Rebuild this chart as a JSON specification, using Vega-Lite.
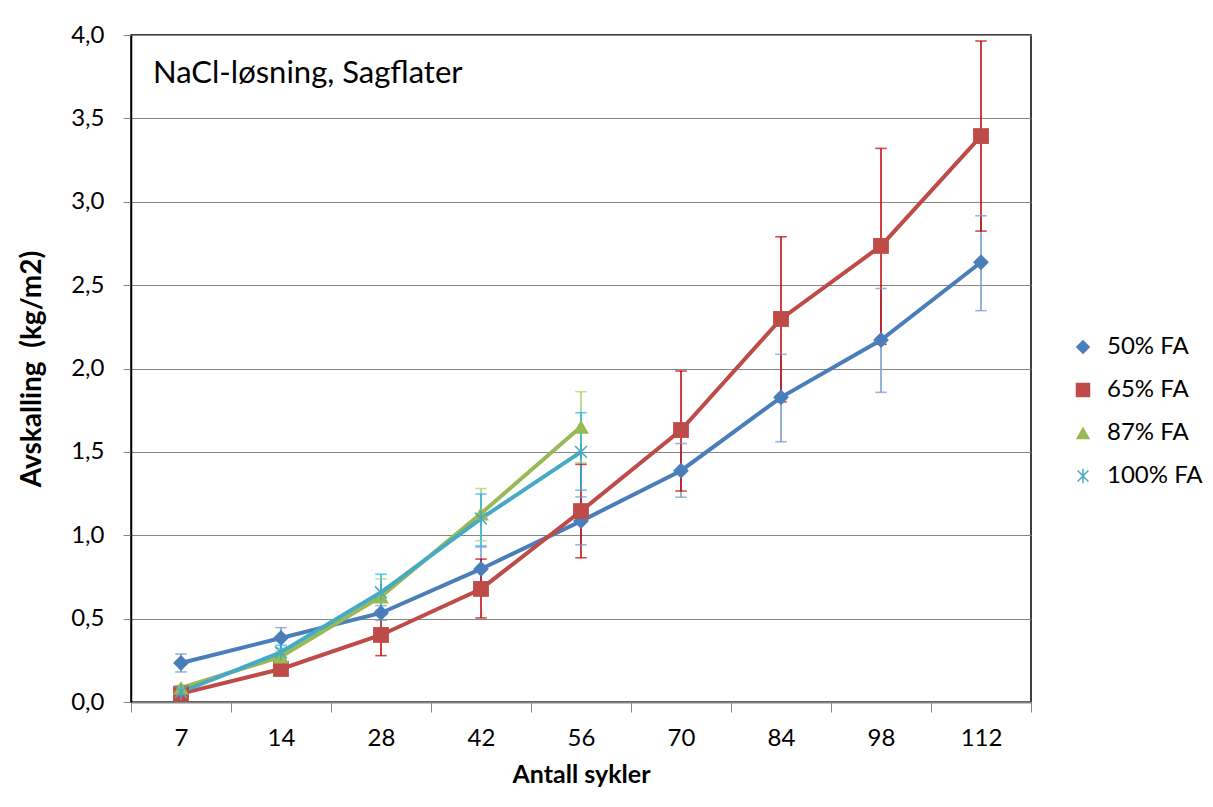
{
  "$schema": "https://vega.github.io/schema/vega-lite/v6.json",
  "width": 900,
  "height": 667,
  "autosize": "none",
  "padding": {"left": 131, "top": 35, "right": 182, "bottom": 105},
  "background": "white",
  "config": {
    "font": "Lato",
    "view": {"stroke": "black", "strokeWidth": 1.5},
    "axis": {"labelColor": "black", "titleColor": "black", "labelFontSize": 24, "titleFontSize": 25, "titleFontWeight": "bold", "labelFont": "Lato", "titleFont": "Lato"},
    "legend": {"orient": "none", "legendX": 940, "legendY": 300, "labelFontSize": 24, "labelFont": "Lato", "labelColor": "black", "rowPadding": 19, "symbolSize": 210, "labelOffset": 12, "title": null}
  },
  "title": {"text": "NaCl-løsning, Sagflater", "anchor": "start", "frame": "group", "orient": "top", "offset": -91, "dx": 22, "fontSize": 31, "fontWeight": "normal", "color": "black", "font": "Lato", "baseline": "alphabetic"},
  "data": {"values": [
    {"cycle": 7, "series": "50% FA", "value": 0.234, "lo": 0.18, "hi": 0.288},
    {"cycle": 14, "series": "50% FA", "value": 0.384, "lo": 0.322, "hi": 0.446},
    {"cycle": 28, "series": "50% FA", "value": 0.534, "lo": 0.49, "hi": 0.578},
    {"cycle": 42, "series": "50% FA", "value": 0.798, "lo": 0.67, "hi": 0.93},
    {"cycle": 56, "series": "50% FA", "value": 1.085, "lo": 0.943, "hi": 1.23},
    {"cycle": 70, "series": "50% FA", "value": 1.387, "lo": 1.228, "hi": 1.55},
    {"cycle": 84, "series": "50% FA", "value": 1.827, "lo": 1.561, "hi": 2.085},
    {"cycle": 98, "series": "50% FA", "value": 2.171, "lo": 1.857, "hi": 2.48},
    {"cycle": 112, "series": "50% FA", "value": 2.637, "lo": 2.347, "hi": 2.916},
    {"cycle": 7, "series": "65% FA", "value": 0.05, "lo": 0.035, "hi": 0.065},
    {"cycle": 14, "series": "65% FA", "value": 0.198, "lo": 0.18, "hi": 0.216},
    {"cycle": 28, "series": "65% FA", "value": 0.402, "lo": 0.278, "hi": 0.526},
    {"cycle": 42, "series": "65% FA", "value": 0.678, "lo": 0.504, "hi": 0.857},
    {"cycle": 56, "series": "65% FA", "value": 1.145, "lo": 0.865, "hi": 1.425},
    {"cycle": 70, "series": "65% FA", "value": 1.631, "lo": 1.265, "hi": 1.985},
    {"cycle": 84, "series": "65% FA", "value": 2.297, "lo": 1.8, "hi": 2.79},
    {"cycle": 98, "series": "65% FA", "value": 2.735, "lo": 2.145, "hi": 3.32},
    {"cycle": 112, "series": "65% FA", "value": 3.394, "lo": 2.824, "hi": 3.964},
    {"cycle": 7, "series": "87% FA", "value": 0.085, "lo": 0.07, "hi": 0.1},
    {"cycle": 14, "series": "87% FA", "value": 0.272, "lo": 0.24, "hi": 0.305},
    {"cycle": 28, "series": "87% FA", "value": 0.632, "lo": 0.53, "hi": 0.738},
    {"cycle": 42, "series": "87% FA", "value": 1.13, "lo": 0.967, "hi": 1.28},
    {"cycle": 56, "series": "87% FA", "value": 1.65, "lo": 1.435, "hi": 1.861},
    {"cycle": 7, "series": "100% FA", "value": 0.06, "lo": 0.045, "hi": 0.075},
    {"cycle": 14, "series": "100% FA", "value": 0.298, "lo": 0.255, "hi": 0.34},
    {"cycle": 28, "series": "100% FA", "value": 0.658, "lo": 0.55, "hi": 0.766},
    {"cycle": 42, "series": "100% FA", "value": 1.1, "lo": 0.935, "hi": 1.247},
    {"cycle": 56, "series": "100% FA", "value": 1.5, "lo": 1.27, "hi": 1.735}
  ]},
  "encoding": {
    "x": {"field": "cycle", "type": "ordinal", "sort": "ascending",
      "axis": {"title": "Antall sykler", "labelAngle": 0, "tickBand": "extent", "tickSize": 10, "tickColor": "#868686", "domainColor": "#868686", "domainWidth": 2, "labelPadding": 14, "titlePadding": 12, "grid": false}}
  },
  "layer": [
    {
      "mark": {"type": "rule", "strokeWidth": 1.5},
      "encoding": {
        "y": {"field": "lo", "type": "quantitative", "scale": {"domain": [0, 4], "nice": false}},
        "y2": {"field": "hi"},
        "color": {"field": "series", "type": "nominal", "scale": {"domain": ["50% FA", "65% FA", "87% FA", "100% FA"], "range": ["#6F97CC", "#C00000", "#A6D16A", "#1EB4EE"]}, "legend": null}
      }
    },
    {
      "mark": {"type": "tick", "filled": false, "thickness": 0.1, "strokeWidth": 1.5, "size": 10},
      "encoding": {
        "y": {"field": "lo", "type": "quantitative"},
        "color": {"field": "series", "type": "nominal", "scale": {"domain": ["50% FA", "65% FA", "87% FA", "100% FA"], "range": ["#6F97CC", "#C00000", "#A6D16A", "#1EB4EE"]}, "legend": null}
      }
    },
    {
      "mark": {"type": "tick", "filled": false, "thickness": 0.1, "strokeWidth": 1.5, "size": 10},
      "encoding": {
        "y": {"field": "hi", "type": "quantitative"},
        "color": {"field": "series", "type": "nominal", "scale": {"domain": ["50% FA", "65% FA", "87% FA", "100% FA"], "range": ["#6F97CC", "#C00000", "#A6D16A", "#1EB4EE"]}, "legend": null}
      }
    },
    {
      "mark": {"type": "line", "strokeWidth": 4},
      "encoding": {
        "y": {"field": "value", "type": "quantitative",
          "axis": {"title": "Avskalling\u00a0 (kg/m2)", "titleFontSize": 28, "values": [0, 0.5, 1, 1.5, 2, 2.5, 3, 3.5, 4], "labelExpr": "replace(format(datum.value, '.1f'), '.', ',')", "grid": true, "gridColor": "#868686", "gridWidth": 1, "domainColor": "black", "domainWidth": 1.5, "tickColor": "#868686", "tickSize": 8, "labelPadding": 19, "titlePadding": 24}},
        "color": {"field": "series", "type": "nominal", "scale": {"domain": ["50% FA", "65% FA", "87% FA", "100% FA"], "range": ["#4A7EBB", "#BE4B48", "#98B954", "#46AAC5"]}, "legend": null}
      }
    },
    {
      "mark": {"type": "point", "filled": true, "opacity": 1, "size": 250},
      "encoding": {
        "y": {"field": "value", "type": "quantitative"},
        "color": {"field": "series", "type": "nominal", "scale": {"domain": ["50% FA", "65% FA", "87% FA", "100% FA"], "range": ["#4A7EBB", "#BE4B48", "#98B954", "#46AAC5"]}},
        "shape": {"field": "series", "type": "nominal", "scale": {"domain": ["50% FA", "65% FA", "87% FA", "100% FA"], "range": ["diamond", "square", "triangle-up", "M-0.1,-1L0.1,-1L0.1,1L-0.1,1ZM-0.68,-0.82L0.82,0.68L0.68,0.82L-0.82,-0.68ZM0.68,-0.82L0.82,-0.68L-0.68,0.82L-0.82,0.68Z"]}}
      }
    }
  ],
  "resolve": {"scale": {"color": "independent", "shape": "independent"}}
}
